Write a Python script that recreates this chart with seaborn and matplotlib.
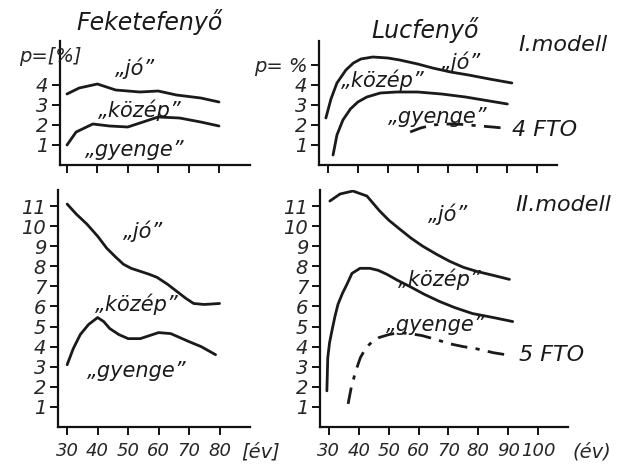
import matplotlib
matplotlib.use("Agg")
import matplotlib.pyplot as plt
import seaborn as sns
import pandas as pd

sns.set_style("ticks")
plt.rcParams['font.family'] = ['DejaVu Sans']
plt.rcParams['font.style'] = 'italic'

# ---- data ----
# I. modell, Feketefenyő
tl_jo_x = [30, 34, 40, 46, 54, 60, 66, 74, 80]
tl_jo_y = [3.55, 3.85, 4.05, 3.75, 3.65, 3.7, 3.5, 3.35, 3.15]
tl_kozep_x = [30, 33, 38.5, 44, 50, 55, 60, 67, 74, 80]
tl_kozep_y = [1.0, 1.65, 2.05, 1.95, 1.9, 2.15, 2.4, 2.35, 2.15, 1.95]

# I. modell, Lucfenyő
tr_jo_x = [29.3, 31, 33, 36, 38.5, 41, 45, 50, 54, 60, 65, 71, 77, 84, 91.5]
tr_jo_y = [2.35, 3.3, 4.1, 4.75, 5.1, 5.3, 5.4, 5.35, 5.25, 5.05, 4.85, 4.65, 4.5, 4.3, 4.1]
tr_kozep_x = [31.7, 33, 35, 37.5, 40, 43, 47.5, 53, 60, 68, 76, 84, 90]
tr_kozep_y = [0.5, 1.5, 2.25, 2.8, 3.15, 3.4, 3.6, 3.65, 3.65, 3.55, 3.4, 3.2, 3.05]
tr_gyenge_x = [57.5, 61, 65, 69, 73, 77, 81, 85, 88.5]
tr_gyenge_y = [1.65, 1.85, 2.0, 2.05, 2.05, 2.0, 1.95, 1.9, 1.85]

# II. modell, Feketefenyő
bl_jo_x = [30, 33, 36.5, 40, 43, 46, 48.5, 51, 54, 57, 59.5, 63, 66, 69, 71.5, 75, 80]
bl_jo_y = [11.1, 10.6, 10.1, 9.5, 8.9, 8.45, 8.1, 7.9, 7.75, 7.6, 7.45, 7.1, 6.75, 6.4, 6.15, 6.1, 6.15]
bl_kozep_x = [30, 32, 34.3, 37, 40, 42, 44, 47, 50, 54, 57, 60, 64, 67, 70, 74, 78.7]
bl_kozep_y = [3.1, 3.9, 4.6, 5.1, 5.45, 5.25, 4.9, 4.6, 4.4, 4.4, 4.55, 4.7, 4.65, 4.45, 4.25, 4.0, 3.6]

# II. modell, Lucfenyő
br_jo_x = [30.3, 33.7, 38, 42.7, 47, 50, 53.7, 57.5, 61.4, 66, 70.4, 75, 79.4, 85, 90.4]
br_jo_y = [11.25, 11.6, 11.75, 11.5, 10.75, 10.3, 9.85, 9.4, 9.0, 8.6, 8.25, 7.95, 7.75, 7.55, 7.35]
br_kozep_x = [29.3, 29.6, 30.2, 31, 32, 33, 34.5, 36, 37.7, 40.4, 43.7, 46.5, 49.4, 53, 57, 62, 67, 72, 78, 85, 91.5]
br_kozep_y = [1.8, 3.45, 4.2, 4.8, 5.5, 6.1, 6.65, 7.1, 7.65, 7.9, 7.9, 7.8, 7.6, 7.3, 7.0, 6.6, 6.25, 5.95, 5.65, 5.45, 5.25]
br_gyenge_x = [36.4, 37.5, 39, 40.5, 42.4, 44.5, 46.7, 50, 53.4, 57, 61.2, 66, 70.2, 75, 79.2, 85, 91.2]
br_gyenge_y = [1.15, 2.0, 2.8, 3.45, 3.95, 4.25, 4.45, 4.6, 4.7, 4.65, 4.55, 4.35, 4.15, 4.0, 3.9, 3.7, 3.55]

x_ticks_left = [30, 40, 50, 60, 70, 80]
x_ticks_right = [30, 40, 50, 60, 70, 80, 90, 100]
y_ticks_top = [1, 2, 3, 4]
y_ticks_bottom = [1, 2, 3, 4, 5, 6, 7, 8, 9, 10, 11]

W, H = 623, 469
fig = plt.figure(figsize=(W / 100, H / 100), dpi=100)
fig.patch.set_facecolor("white")

XFS = 13   # x tick label size
YFS = 14   # y tick label size
LS = 15    # curve label size


def make_ax(x0, y0, x1, y1):
    # pixel box -> figure fraction
    return fig.add_axes([x0 / W, 1 - y1 / H, (x1 - x0) / W, (y1 - y0) / H])


def style(ax, xt, yt, ylab=None, xlab=True):
    for s in ["top", "right"]:
        ax.spines[s].set_visible(False)
    for s in ["left", "bottom"]:
        ax.spines[s].set_linewidth(1.6)
        ax.spines[s].set_color("#111111")
    ax.set_facecolor("white")
    ax.set_xticks(xt)
    ax.set_yticks(yt)
    ax.set_yticklabels([str(v) for v in yt] if ylab is None else ylab,
                       fontsize=YFS, style='italic')
    if xlab:
        ax.set_xticklabels([str(v) for v in xt], fontsize=XFS, style='italic')
    else:
        ax.set_xticklabels([])
    ax.tick_params(direction="out", length=6, width=1.4, color="#111111", pad=2.5)
    ax.tick_params(axis="x", pad=5)
    ax.set_xlabel("")
    ax.set_ylabel("")


def line(ax, xs, ys, dashed=False):
    df = pd.DataFrame({"x": xs, "y": ys})
    sns.lineplot(data=df, x="x", y="y", ax=ax, color="#1a1a1a",
                 linewidth=2.0, sort=False,
                 linestyle=(0, (6, 3, 1.5, 3)) if dashed else "-")


lab_kw = dict(fontsize=LS, style='italic', ha="center", va="center", color="#1a1a1a")
title_kw = dict(fontsize=17, style='italic', ha="center", va="center", color="#1a1a1a")
note_kw = dict(fontsize=16, style='italic', ha="center", va="center", color="#1a1a1a")

# ---- top-left ----
ax1 = make_ax(60, 41, 250, 165)
line(ax1, tl_jo_x, tl_jo_y)
line(ax1, tl_kozep_x, tl_kozep_y)
ax1.set_xlim(27.7, 90.2)
ax1.set_ylim(0, 6.2)
style(ax1, x_ticks_left, y_ticks_top, xlab=False)
ax1.text(52.4, 4.85, "„jó”", **lab_kw)
ax1.text(54, 2.75, "„közép”", **lab_kw)
ax1.text(52.4, 0.75, "„gyenge”", **lab_kw)
ax1.text(24.5, 5.45, "p=[%]", fontsize=YFS, style='italic', ha="center", va="center")
fig.text(150 / W, 1 - 22 / H, "Feketefenyő", **title_kw)

# ---- top-right ----
ax2 = make_ax(319, 41, 557, 165)
line(ax2, tr_jo_x, tr_jo_y)
line(ax2, tr_kozep_x, tr_kozep_y)
line(ax2, tr_gyenge_x, tr_gyenge_y, dashed=True)
ax2.set_xlim(27, 106.6)
ax2.set_ylim(0, 6.2)
style(ax2, x_ticks_right, y_ticks_top + [5], ylab=["1", "2", "3", "4", "p= %"], xlab=False)
ax2.text(48.5, 4.25, "„közép”", **lab_kw)
ax2.text(74.5, 5.15, "„jó”", **lab_kw)
ax2.text(66.7, 2.4, "„gyenge”", **lab_kw)
fig.text(425 / W, 1 - 30 / H, "Lucfenyő", **title_kw)
fig.text(563 / W, 1 - 45 / H, "I.modell", **note_kw)
fig.text(545 / W, 1 - 130 / H, "4 FTO", **note_kw)

# ---- bottom-left ----
ax3 = make_ax(58, 190, 250, 427)
line(ax3, bl_jo_x, bl_jo_y)
line(ax3, bl_kozep_x, bl_kozep_y)
ax3.set_xlim(27, 90)
ax3.set_ylim(0, 11.8)
style(ax3, x_ticks_left, y_ticks_bottom)
ax3.text(55, 9.75, "„jó”", **lab_kw)
ax3.text(53, 6.1, "„közép”", **lab_kw)
ax3.text(53, 2.8, "„gyenge”", **lab_kw)
ax3.text(93.5, -0.105, "[év]", transform=ax3.get_xaxis_transform(),
         fontsize=XFS + 1, style='italic', ha="center", va="center")

# ---- bottom-right ----
ax4 = make_ax(320, 190, 568, 427)
line(ax4, br_jo_x, br_jo_y)
line(ax4, br_kozep_x, br_kozep_y)
line(ax4, br_gyenge_x, br_gyenge_y, dashed=True)
ax4.set_xlim(27, 110)
ax4.set_ylim(0, 11.8)
style(ax4, x_ticks_right, y_ticks_bottom)
ax4.text(70, 10.6, "„jó”", **lab_kw)
ax4.text(67, 7.35, "„közép”", **lab_kw)
ax4.text(65.8, 5.1, "„gyenge”", **lab_kw)
ax4.text(118, -0.105, "(év)", transform=ax4.get_xaxis_transform(),
         fontsize=XFS + 1, style='italic', ha="center", va="center")
fig.text(563 / W, 1 - 205 / H, "II.modell", **note_kw)
fig.text(552 / W, 1 - 355 / H, "5 FTO", **note_kw)

fig.savefig("out.png", dpi=100, facecolor="white")
